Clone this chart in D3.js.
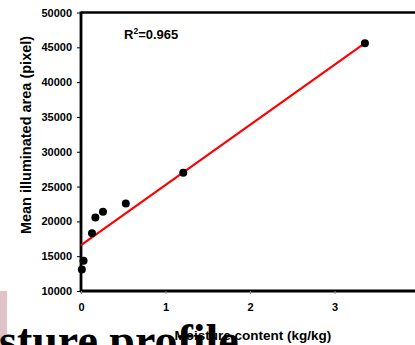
<!DOCTYPE html>
<html><head><meta charset="utf-8">
<script src="https://cdn.jsdelivr.net/npm/d3@7"></script>
<style>body{margin:0;background:#fff;overflow:hidden}svg{display:block}</style>
</head><body>
<svg id="c" width="415" height="345"></svg>
<script>
const moisture = [0.01, 0.03, 0.13, 0.17, 0.26, 0.53, 1.21, 3.36];
const area = [13100, 14350, 18300, 20550, 21400, 22550, 27000, 45600];
const fitX = [0, 3.36];
const fitY = [16600, 45600];
const xTicks = [0, 1, 2, 3];
const yTicks = [10000, 15000, 20000, 25000, 30000, 35000, 40000, 45000, 50000];
const xTitle = "Moisture content (kg/kg)";
const yTitle = "Mean illuminated area (pixel)";
const bgTitle = "sture profile";

const svg = d3.select("#c");
const x = d3.scaleLinear().domain([0, 4]).range([81, 419]);
const y = d3.scaleLinear().domain([10000, 50000]).range([291, 12.5]);

// background slide fragments
svg.append("rect").attr("x", 0).attr("y", 291).attr("width", 7).attr("height", 54).attr("fill", "#dfc3c8");
svg.append("text").attr("x", -1).attr("y", 356)
  .attr("font-family", "Liberation Serif, Times New Roman, serif").attr("font-weight", "bold")
  .attr("font-size", 46).attr("fill", "#000").text(bgTitle);

// frame top
svg.append("line").attr("x1", x(0)).attr("x2", 415).attr("y1", y(50000)).attr("y2", y(50000))
  .attr("stroke", "#000").attr("stroke-width", 2.5);

const font = "Liberation Sans, Arial, sans-serif";
const yAxis = svg.append("g").attr("transform", `translate(${x(0)},0)`)
  .call(d3.axisLeft(y).tickValues(yTicks).tickFormat(d3.format("d")).tickSize(4).tickPadding(5));
yAxis.select(".domain").attr("stroke-width", 2.8).attr("d", `M0,${y(10000)+1}V${y(50000)-1}`);
yAxis.selectAll("text").attr("font-family", font).attr("font-weight", "bold").attr("font-size", 11);

const xAxis = svg.append("g").attr("transform", `translate(0,${y(10000)})`)
  .call(d3.axisBottom(x).tickValues(xTicks).tickFormat(d3.format("d")).tickSize(3).tickPadding(9));
xAxis.select(".domain").attr("stroke-width", 2.8).attr("d", `M${x(0)-1},0H415`);
xAxis.selectAll(".tick line").attr("stroke", "#888");
xAxis.selectAll("text").attr("font-family", font).attr("font-weight", "bold").attr("font-size", 11);

// fit line
svg.append("path").datum(fitX.map((v, i) => [v, fitY[i]]))
  .attr("d", d3.line().x(d => x(d[0])).y(d => y(d[1])))
  .attr("stroke", "#f00").attr("stroke-width", 2.2).attr("fill", "none");

// points
svg.append("g").selectAll("circle").data(moisture).join("circle")
  .attr("cx", d => x(d)).attr("cy", (d, i) => y(area[i])).attr("r", 4).attr("fill", "#000");

// R2
const r = svg.append("text").attr("x", 124).attr("y", 39).attr("font-family", font)
  .attr("font-weight", "bold").attr("font-size", 13);
r.append("tspan").text("R");
r.append("tspan").attr("font-size", 8.5).attr("dy", -5).text("2");
r.append("tspan").attr("dy", 5).text("=0.965");

// titles
svg.append("text").attr("x", 253).attr("y", 340).attr("text-anchor", "middle")
  .attr("font-family", font).attr("font-weight", "bold").attr("font-size", 13.5).text(xTitle);
svg.append("text").attr("transform", "translate(31,135) rotate(-90)").attr("text-anchor", "middle")
  .attr("font-family", font).attr("font-weight", "bold").attr("font-size", 14.5).text(yTitle);
</script>
</body></html>
